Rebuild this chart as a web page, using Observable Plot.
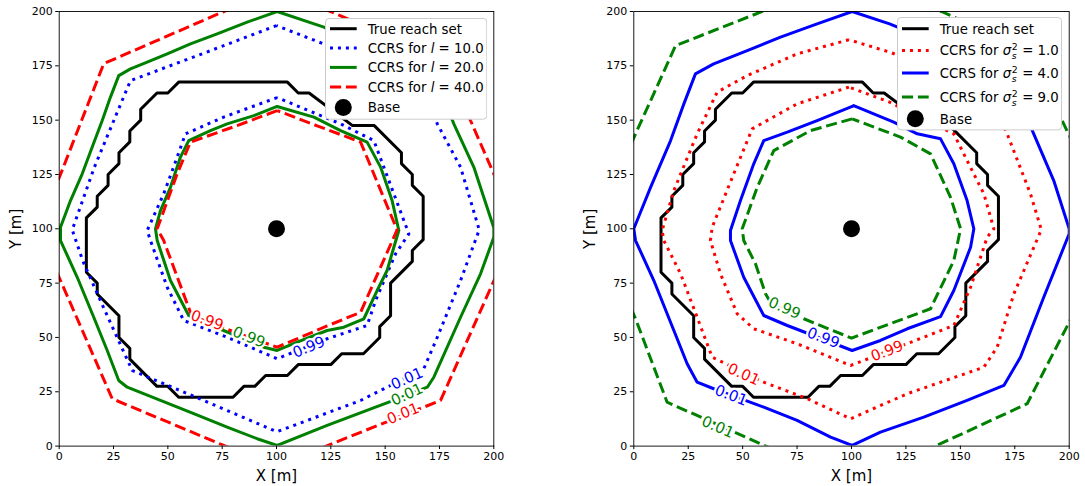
<!DOCTYPE html>
<html>
<head>
<meta charset="utf-8">
<script src="https://cdn.jsdelivr.net/npm/d3@7"></script>
<script src="https://cdn.jsdelivr.net/npm/@observablehq/plot@0.6"></script>
<style>
  html, body { margin: 0; padding: 0; background: #fff; }
  #fig { position: relative; width: 1085px; height: 486px; overflow: hidden; font-family: "DejaVu Sans", sans-serif; }
  .panel { position: absolute; top: 0; }
  .panel svg { display: block; }
  .panel g[aria-label="x-axis label"], .panel g[aria-label="y-axis label"] { font-size: 15px; }
  svg.legend { position: absolute; font-family: "DejaVu Sans", sans-serif; font-size: 13.3px; }
</style>
</head>
<body>
<div id="fig"></div>
<script>
// ---------- shared values ----------
const tickValues = [0, 25, 50, 75, 100, 125, 150, 175, 200];
const basePosition = [[100, 100]];

// boundary of the true reachable set (grid staircase)
const trueReachSet = [
  [55, 167.5], [105, 167.5], [110, 162.5], [115, 162.5], [135, 147.5], [145, 147.5],
  [157.5, 135], [157.5, 130], [162.5, 125], [162.5, 120], [167.5, 115], [167.5, 95],
  [162.5, 90], [162.5, 85], [152.5, 75], [152.5, 60], [147.5, 55], [147.5, 50],
  [140, 42.5], [130, 42.5], [125, 37.5], [110, 37.5], [105, 32.5], [95, 32.5],
  [90, 27.5], [85, 27.5], [80, 22.5], [55, 22.5], [50, 27.5], [45, 27.5],
  [32.5, 40], [32.5, 45], [27.5, 50], [27.5, 60], [17.5, 70], [17.5, 75],
  [12.5, 80], [12.5, 105], [17.5, 110], [17.5, 115], [22.5, 120], [22.5, 125],
  [27.5, 130], [27.5, 135], [32.5, 140], [32.5, 145], [37.5, 150], [37.5, 155],
  [45, 162.5], [50, 162.5], [55, 167.5]
];

// ---------- CCRS contours for the length scale l ----------
const ccrsL10Outer = [
  [100, 193.5], [66.5, 180.8], [32.8, 168.2], [16.2, 128.4], [6, 99.5], [10.8, 85.4],
  [20.3, 64], [33.6, 34.8], [66.5, 21], [100.2, 6.6], [138.7, 21], [167.8, 35.6],
  [174, 50.1], [184.7, 76.2], [193.3, 99.5], [184.7, 128.4], [174, 148.3], [167, 166],
  [133.5, 180.5], [100, 193.5]
];
const ccrsL10Inner = [
  [100.3, 160.4], [75.7, 151.4], [58.1, 143.7], [54.3, 133], [48.1, 116.1], [40.5, 99.2],
  [42, 94.6], [49.7, 73.1], [57.3, 57.8], [77.3, 50.1], [100.3, 40.2], [123.3, 49.4],
  [141.7, 55.5], [145.6, 67], [154.8, 88.5], [160.9, 97.7], [154, 116.1], [144.8, 140.6],
  [129.5, 148.3], [100.3, 160.4]
];
const ccrsL20Outer = [
  [100.3, 200], [86.5, 195.1], [72.7, 189.7], [60.4, 185.1], [49.7, 180.5], [40.5, 176.7],
  [32.8, 173.6], [27.4, 170.5], [23.6, 160.6], [19.8, 149.8], [15.2, 137.6], [10.6, 125.3],
  [5.2, 113], [0.6, 100.7], [0.6, 94.6], [8.3, 77.7], [15.9, 59.3], [22.1, 44],
  [27.4, 30.2], [31.3, 27.1], [46.6, 21], [61.9, 14.9], [77.3, 8.7], [91.1, 3.4],
  [100.3, 0.3], [123.3, 9.5], [151.7, 20.2], [169.4, 27.1], [172.4, 31.7], [184.7, 59.3],
  [193.9, 79.3], [200, 96.1], [200, 100.5], [190.8, 128.4], [181.6, 148.3], [172.5, 172],
  [160, 176.5], [143, 183], [121.8, 192.8], [100.3, 200]
];
const ccrsL20Inner = [
  [100.3, 156.3], [89.6, 152.1], [77.3, 148.3], [69.6, 145.2], [59.6, 140.6], [55.8, 133],
  [51.2, 119.1], [46.6, 108.4], [44.3, 100], [45.1, 94.6], [51.2, 76.2], [59.6, 60.1],
  [68.1, 56.3], [94.2, 45.5], [100.3, 44], [109.5, 47.8], [123.3, 53.2], [131, 54.7],
  [140.2, 58.6], [146.3, 71.6], [150.9, 80.8], [154, 91.5], [156.3, 99.2], [153.2, 113],
  [147.9, 128.4], [141.7, 139.9], [129.5, 145.2], [117.2, 151.4], [100.3, 156.3]
];
const ccrsL40Outer = [
  [100, 210.5], [75.8, 200], [20.5, 176], [0.6, 125], [-10, 100], [0.6, 76.2],
  [24.4, 21.8], [75.7, 0.3], [100, -9.5], [124, 0.5], [175.5, 21], [200, 76],
  [210.7, 100], [200, 125.3], [189.3, 149.8], [178.5, 177], [124.9, 200], [100, 210.5]
];
const ccrsL40Inner = [
  [100.3, 154.4], [81.9, 147.5], [60.4, 139.9], [54.3, 125.3], [45.1, 100], [48.1, 94.6],
  [58.9, 65.5], [61, 60], [78.8, 53.2], [100.3, 45.5], [123.3, 55.3], [138.7, 61.6],
  [155.5, 99.5], [138.7, 139.9], [118.7, 147.4], [100.3, 154.4]
];

// ---------- CCRS contours for the signal variance sigma_s^2 ----------
const ccrsS1Outer = [
  [98.8, 187], [75, 180.5], [52.1, 170.5], [38.3, 162.9], [29.1, 143.7], [18.4, 117.6],
  [13, 99.2], [13.8, 94.6], [21.5, 79.3], [29.1, 59.3], [36, 40.9], [59.7, 29.4],
  [79.7, 21.8], [99.6, 12.6], [125.6, 24.1], [160.8, 36.3], [166.9, 45.5], [174.6, 70.1],
  [187.2, 99.6], [182.2, 116.1], [171.5, 143.7], [162.5, 163], [140, 173], [117.5, 181.3],
  [98.8, 187]
];
const ccrsS1Inner = [
  [98.8, 165.2], [75, 157.5], [54.4, 146], [45.9, 125.3], [36, 100.7], [35.2, 94.6],
  [39.8, 79.3], [47.5, 60.9], [55.1, 54], [75, 47.1], [99.6, 37.1], [133.2, 50.1],
  [147, 55.5], [154.7, 73.1], [162.3, 96.1], [165.4, 100], [160.8, 116.1], [153.1, 131.4],
  [147, 143.7], [130, 152], [117.5, 158.3], [98.8, 165.2]
];
const ccrsS4Outer = [
  [100.3, 200], [84.2, 194.3], [67.4, 188.2], [52.1, 182], [36.7, 175.9], [28.3, 171.3],
  [23, 157.5], [16.9, 140.6], [7.7, 119.1], [0, 100], [0.8, 94.6], [9.2, 76.2],
  [18.4, 53.2], [24.5, 37.9], [29.1, 29.4], [36.7, 26.4], [59.7, 17.9], [75, 11.8],
  [90.4, 4.1], [100.3, 0.3], [113.3, 6.4], [133.2, 13.3], [153.1, 21], [170, 27.9],
  [177.6, 40.9], [188.3, 68.5], [200, 97.7], [200, 100], [192.9, 122.2], [183.7, 143.7],
  [172, 172], [150, 181], [117.5, 194.3], [100.3, 200]
];
const ccrsS4Inner = [
  [100.3, 156.3], [84.2, 149.8], [70.5, 144.5], [59.7, 140.6], [55.1, 129.9], [49, 113],
  [44.4, 99.2], [44.4, 94.6], [50.5, 77.7], [59.7, 60.1], [70.5, 55.5], [100.3, 44],
  [113.3, 48.6], [125.6, 54], [140.9, 59.6], [147, 71.6], [154.7, 91.5], [156.2, 100],
  [153.1, 113], [147, 129.9], [140.9, 141.4], [130.2, 143.7], [119.4, 149.1], [101, 156.7],
  [100.3, 156.3]
];
const ccrsS9Outer = [
  [100, 216.5], [58.2, 199.7], [19.2, 184.3], [0.8, 143.7], [-18, 100], [0.8, 58.6],
  [15.3, 20.2], [58.2, 1.1], [100, -17.5], [140.9, 1.1], [180.7, 19.5], [200, 57],
  [218, 100], [200, 143], [181.5, 182], [141.3, 200], [100, 216.5]
];
const ccrsS9Inner = [
  [100.3, 150.6], [81.2, 145.2], [64.3, 136], [56.7, 119.1], [49.8, 100], [50.5, 94.6],
  [55.9, 83.9], [60.5, 70.1], [63.5, 65], [78.1, 58.6], [100, 49.7], [136.3, 63.2],
  [147, 85.4], [150.1, 100], [145.5, 114.5], [136.3, 134.5], [122.5, 142.2], [100.3, 150.6]
];

// contour level labels (position in data units, text, series, baseline angle)
const levelLabelsL = [
  {x: 68.1, y: 57.8, text: "0.99", series: "l40", angle: 20},
  {x: 87.3, y: 50.1, text: "0.99", series: "l20", angle: 22},
  {x: 114.9, y: 45.5, text: "0.99", series: "l10", angle: -22},
  {x: 160.1, y: 31, text: "0.01", series: "l10", angle: -24},
  {x: 160.1, y: 23.7, text: "0.01", series: "l20", angle: -25},
  {x: 158.3, y: 14.9, text: "0.01", series: "l40", angle: -22}
];
const levelLabelsS = [
  {x: 69.2, y: 63.5, text: "0.99", series: "s9", angle: 24},
  {x: 87, y: 49.8, text: "0.99", series: "s4", angle: 21},
  {x: 116.4, y: 43.7, text: "0.99", series: "s1", angle: -21},
  {x: 50.5, y: 33, text: "0.01", series: "s1", angle: 24},
  {x: 44.7, y: 23.3, text: "0.01", series: "s4", angle: 21},
  {x: 38.6, y: 8.7, text: "0.01", series: "s9", angle: 24}
];

// ---------- styles ----------
const BLUE = "#0000ff", GREEN = "#008000", RED = "#ff0000";
const LW = 3;
const DOTTED = `${LW},${1.65 * LW}`;
const DASHED = `${3.7 * LW},${1.6 * LW}`;
const lineStyles = {
  truth: {stroke: "#000", dash: null},
  l10: {stroke: BLUE, dash: DOTTED},
  l20: {stroke: GREEN, dash: null},
  l40: {stroke: RED, dash: DASHED},
  s1: {stroke: RED, dash: DOTTED},
  s4: {stroke: BLUE, dash: null},
  s9: {stroke: GREEN, dash: DASHED}
};

function contour(points, key) {
  const s = lineStyles[key];
  return Plot.line(points, {
    x: d => d[0], y: d => d[1],
    stroke: s.stroke, strokeWidth: LW,
    strokeDasharray: s.dash ?? undefined,
    strokeLinecap: s.dash ? "butt" : "round",
    strokeLinejoin: "round",
    clip: true
  });
}

function levelLabels(labels) {
  return labels.map(l => Plot.text([l], {
    x: "x", y: "y", text: "text", rotate: l.angle,
    fill: lineStyles[l.series].stroke,
    stroke: "white", strokeWidth: 4.5,
    fontSize: 15, clip: true
  }));
}

function panel({width, marginLeft, marginRight, marks}) {
  return Plot.plot({
    width, height: 486,
    marginLeft, marginRight, marginTop: 11, marginBottom: 40.4,
    x: {domain: [0, 200]},
    y: {domain: [0, 200]},
    style: {fontFamily: "DejaVu Sans", fontSize: "11px", color: "black", background: "white", overflow: "visible"},
    marks: [
      ...marks,
      Plot.dot(basePosition, {x: d => d[0], y: d => d[1], r: 8.5, fill: "black"}),
      Plot.axisX({ticks: tickValues, tickSize: 3.5, tickPadding: 3, label: "X [m]", labelAnchor: "center", labelArrow: "none", labelOffset: 34.5}),
      Plot.axisY({ticks: tickValues, tickSize: 3.5, tickPadding: 3, label: "Y [m]", labelAnchor: "center", labelArrow: "none", labelOffset: 49}),
      Plot.frame({stroke: "black", strokeWidth: 0.9})
    ]
  });
}

const fig = document.getElementById("fig");

function place(node, left) {
  const div = document.createElement("div");
  div.className = "panel";
  div.style.left = left + "px";
  div.appendChild(node);
  fig.appendChild(div);
}

// left: length scale
place(panel({
  width: 542, marginLeft: 58.7, marginRight: 48.7,
  marks: [
    contour(trueReachSet, "truth"),
    contour(ccrsL10Outer, "l10"), contour(ccrsL10Inner, "l10"),
    contour(ccrsL20Outer, "l20"), contour(ccrsL20Inner, "l20"),
    contour(ccrsL40Outer, "l40"), contour(ccrsL40Inner, "l40"),
    ...levelLabels(levelLabelsL)
  ]
}), 0);

// right: signal variance
place(panel({
  width: 543, marginLeft: 91.3, marginRight: 16.3,
  marks: [
    contour(trueReachSet, "truth"),
    contour(ccrsS1Outer, "s1"), contour(ccrsS1Inner, "s1"),
    contour(ccrsS4Outer, "s4"), contour(ccrsS4Inner, "s4"),
    contour(ccrsS9Outer, "s9"), contour(ccrsS9Inner, "s9"),
    ...levelLabels(levelLabelsS)
  ]
}), 542);

// ---------- legends ----------
function legend({left, top, width, height, rows}) {
  const svg = d3.select(fig).append("svg")
    .attr("class", "legend")
    .style("left", left + "px").style("top", top + "px")
    .attr("width", width).attr("height", height);
  svg.append("rect")
    .attr("x", 0.5).attr("y", 0.5).attr("width", width - 1).attr("height", height - 1)
    .attr("rx", 3.5).attr("fill", "white").attr("stroke", "#cccccc");
  for (const r of rows) {
    if (r.key === "base") {
      svg.append("circle").attr("cx", 18.3).attr("cy", r.cy).attr("r", 8.5).attr("fill", "black");
    } else {
      const s = lineStyles[r.key];
      svg.append("line")
        .attr("x1", 5).attr("x2", 31.7).attr("y1", r.cy).attr("y2", r.cy)
        .attr("stroke", s.stroke).attr("stroke-width", LW)
        .attr("stroke-dasharray", s.dash)
        .attr("stroke-linecap", "butt");
    }
    const t = svg.append("text").attr("x", 42.7).attr("y", r.cy + 5).attr("fill", "black");
    r.build(t);
  }
}

function plainText(str) { return t => t.text(str); }
function lengthScaleText(value) {
  return t => {
    t.append("tspan").text("CCRS for ");
    t.append("tspan").attr("font-style", "italic").text("l");
    t.append("tspan").text(" = " + value);
  };
}
function varianceText(value) {
  return t => {
    t.append("tspan").text("CCRS for ");
    t.append("tspan").attr("font-style", "italic").text("σ");
    t.append("tspan").attr("font-size", "9.3px").attr("dy", -5.5).attr("dx", 0.6).text("2");
    t.append("tspan").attr("font-size", "9.3px").attr("font-style", "italic").attr("dy", 9).attr("dx", -5.9).text("s");
    t.append("tspan").attr("dy", -3.5).attr("dx", 1.4).text(" = " + value);
  };
}

legend({
  left: 325, top: 18.3, width: 162.3, height: 101.7,
  rows: [
    {key: "truth", cy: 10.7, build: plainText("True reach set")},
    {key: "l10", cy: 30, build: lengthScaleText("10.0")},
    {key: "l20", cy: 49.4, build: lengthScaleText("20.0")},
    {key: "l40", cy: 69, build: lengthScaleText("40.0")},
    {key: "base", cy: 89.4, build: plainText("Base")}
  ]
});

legend({
  left: 896.7, top: 17.3, width: 165, height: 113.4,
  rows: [
    {key: "truth", cy: 11.7, build: plainText("True reach set")},
    {key: "s1", cy: 33.4, build: varianceText("1.0")},
    {key: "s4", cy: 56, build: varianceText("4.0")},
    {key: "s9", cy: 80, build: varianceText("9.0")},
    {key: "base", cy: 101.7, build: plainText("Base")}
  ]
});
</script>
</body>
</html>
